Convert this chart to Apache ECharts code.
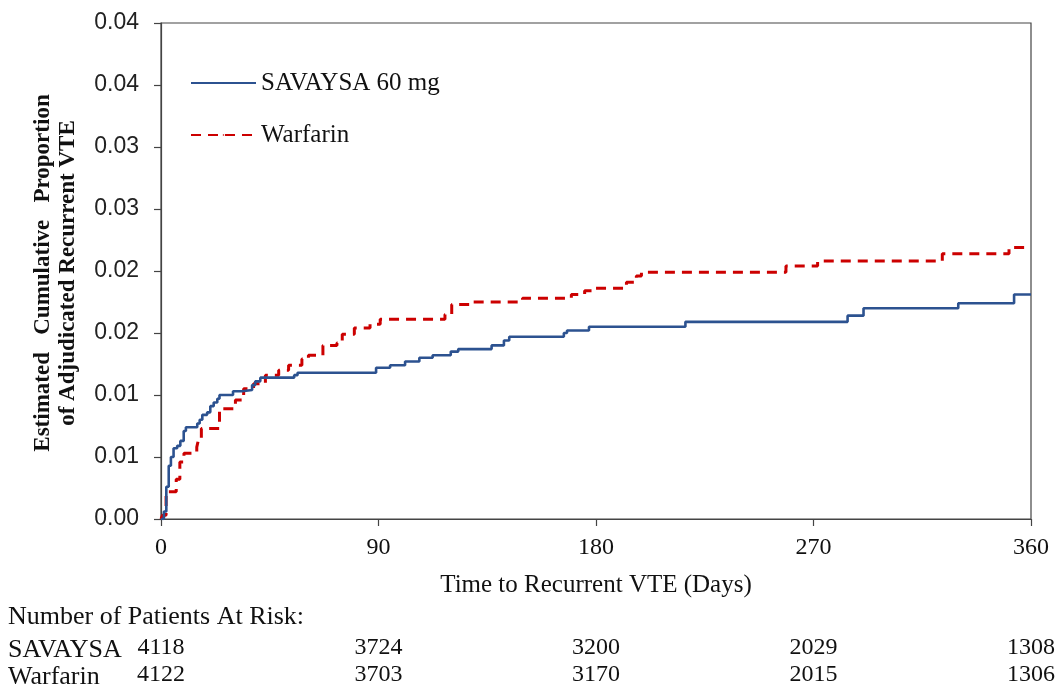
<!DOCTYPE html>
<html>
<head>
<meta charset="utf-8">
<script src="https://cdn.jsdelivr.net/npm/echarts@6/dist/echarts.min.js"></script>
<style>
html,body{margin:0;padding:0;background:#fff;}
#chart{width:1058px;height:687px;}
</style>
</head>
<body>
<div id="chart"></div>
<script>
// ---- data ----
var savaysaDays = [0, 1.2, 2.2, 3.2, 4.1, 5.2, 6.7, 8.0, 9.4, 10.3, 15.0, 16.0, 17.1, 19.1, 20.4, 21.8, 23.3, 24.2, 29.8, 33.5, 37.7, 39.0, 41.1, 55.1, 56.5, 89.0, 94.8, 101.0, 106.9, 112.4, 119.9, 123.0, 136.8, 141.9, 144.1, 166.7, 168.0, 177.1, 217.0, 284.1, 290.7, 329.9, 353.0, 360];
var savaysaValues = [0, 0.0006, 0.0026, 0.0043, 0.0050, 0.0057, 0.0059, 0.0063, 0.0071, 0.0074, 0.0077, 0.0080, 0.0084, 0.0086, 0.0091, 0.0094, 0.0097, 0.0100, 0.0103, 0.0104, 0.0108, 0.0111, 0.0114, 0.0116, 0.0118, 0.0122, 0.0124, 0.0127, 0.0130, 0.0132, 0.0135, 0.0137, 0.0140, 0.0144, 0.0147, 0.0150, 0.0152, 0.0155, 0.0159, 0.0164, 0.0170, 0.0174, 0.0181, 0.0181];

var warfarinDays = [0, 0.6, 2.1, 6.3, 7.8, 9.5, 14.8, 15.5, 16.7, 24.2, 30.8, 34.2, 38.3, 43.2, 48.7, 52.8, 58.3, 61.0, 67.0, 72.8, 75.0, 80.0, 86.5, 90.7, 117.5, 120.3, 128.5, 149.6, 169.8, 175.3, 179.0, 192.6, 196.7, 198.8, 258.6, 271.7, 323.3, 350.9, 360];
var warfarinValues = [0, 0.0003, 0.0022, 0.0032, 0.0046, 0.0053, 0.0058, 0.0064, 0.0073, 0.0089, 0.0096, 0.0105, 0.0109, 0.0116, 0.0120, 0.0124, 0.0129, 0.0132, 0.0140, 0.0142, 0.0149, 0.0154, 0.0157, 0.0161, 0.0165, 0.0173, 0.0175, 0.0178, 0.0181, 0.0184, 0.0186, 0.0191, 0.0196, 0.0199, 0.0204, 0.0208, 0.0214, 0.0219, 0.0219];

var yTickLabels = ['0.00', '0.01', '0.01', '0.02', '0.02', '0.03', '0.03', '0.04', '0.04'];
var xTicks = [0, 90, 180, 270, 360];
var savaysaAtRisk = [4118, 3724, 3200, 2029, 1308];
var warfarinAtRisk = [4122, 3703, 3170, 2015, 1306];

var seriesNames = ['SAVAYSA 60 mg', 'Warfarin'];
var xAxisTitle = 'Time to Recurrent VTE (Days)';
var yAxisTitle = 'Estimated   Cumulative   Proportion\nof Adjudicated Recurrent VTE';
var riskTitle = 'Number of Patients At Risk:';
var riskRowLabels = ['SAVAYSA', 'Warfarin'];

// ---- build ----
function zip(a, b) { return a.map(function (v, i) { return [v, b[i]]; }); }
var serif = '"Liberation Serif", "Times New Roman", serif';
var sans = '"Liberation Sans", Arial, sans-serif';

function riskAxis(values, offset) {
  return {
    type: 'value', min: 0, max: 360, interval: 90, position: 'bottom', offset: offset,
    axisLine: { show: false }, axisTick: { show: false }, splitLine: { show: false },
    axisLabel: {
      margin: 0, fontFamily: serif, fontSize: 24, color: '#111',
      formatter: function (v) { var i = xTicks.indexOf(v); return i >= 0 ? String(values[i]) : ''; }
    }
  };
}

var chart = echarts.init(document.getElementById('chart'), null, { renderer: 'canvas' });
chart.setOption({
  animation: false,
  backgroundColor: '#fff',
  grid: { left: 161, right: 26, top: 23, bottom: 165, show: true, borderColor: '#444', borderWidth: 1.2, backgroundColor: 'transparent' },
  legend: {
    orient: 'vertical', left: 185, top: 64, itemWidth: 65, itemHeight: 2, itemGap: 24,
    textStyle: { fontFamily: serif, fontSize: 25, color: '#111', lineHeight: 28 },
    data: seriesNames
  },
  xAxis: [
    {
      type: 'value', min: 0, max: 360, interval: 90,
      name: xAxisTitle, nameLocation: 'middle', nameGap: 54,
      nameTextStyle: { fontFamily: serif, fontSize: 25, color: '#111' },
      axisLine: { show: true, lineStyle: { color: '#444', width: 1.2 } },
      axisTick: { show: true, inside: false, length: 7, lineStyle: { color: '#444', width: 1.2 } },
      axisLabel: { margin: 17, fontFamily: serif, fontSize: 24, color: '#111' },
      splitLine: { show: false }
    },
    riskAxis(savaysaAtRisk, 117),
    riskAxis(warfarinAtRisk, 144)
  ],
  yAxis: {
    type: 'value', min: 0, max: 0.04, interval: 0.005,
    axisLine: { show: true, lineStyle: { color: '#444', width: 1.2 } },
    axisTick: { show: true, inside: false, length: 7, lineStyle: { color: '#444', width: 1.2 } },
    axisLabel: {
      margin: 22, fontFamily: sans, fontSize: 23, color: '#222',
      formatter: function (v) { return yTickLabels[Math.round(v / 0.005)]; }
    },
    splitLine: { show: false }
  },
  graphic: [
    {
      type: 'text', x: 56, y: 273, rotation: Math.PI / 2,
      style: { text: yAxisTitle, font: 'bold 23px ' + serif, fill: '#111', align: 'center', verticalAlign: 'middle', lineHeight: 25 }
    },
    { type: 'text', x: 8, y: 617, style: { text: riskTitle, font: '26px ' + serif, fill: '#111', verticalAlign: 'middle' } },
    { type: 'text', x: 8, y: 650, style: { text: riskRowLabels[0], font: '26px ' + serif, fill: '#111', verticalAlign: 'middle' } },
    { type: 'text', x: 8, y: 677, style: { text: riskRowLabels[1], font: '26px ' + serif, fill: '#111', verticalAlign: 'middle' } }
  ],
  series: [
    {
      name: seriesNames[0], type: 'line', step: 'end', symbol: 'none',
      data: zip(savaysaDays, savaysaValues),
      lineStyle: { color: '#2c5290', width: 2.6 }, itemStyle: { color: '#2c5290' }, z: 3
    },
    {
      name: seriesNames[1], type: 'line', step: 'end', symbol: 'none',
      data: zip(warfarinDays, warfarinValues),
      lineStyle: { color: '#cc0000', width: 3, type: [10, 7] }, itemStyle: { color: '#cc0000' }, z: 2
    }
  ]
});
</script>
</body>
</html>
